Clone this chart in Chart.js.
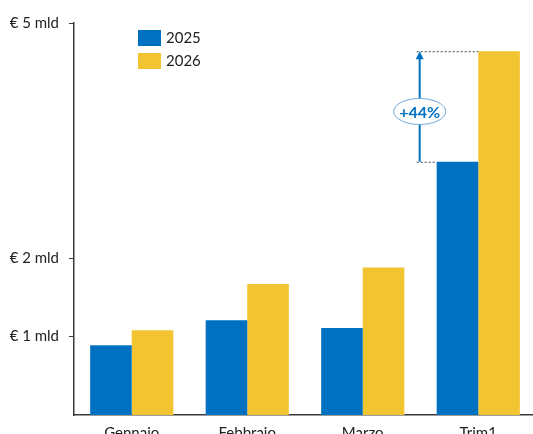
<!DOCTYPE html>
<html>
<head>
<meta charset="utf-8">
<script src="https://cdn.jsdelivr.net/npm/chart.js@4"></script>
<style>
  html, body { margin: 0; padding: 0; background: #fff; overflow: hidden; }
  #wrap { width: 536px; height: 434px; }
</style>
</head>
<body>
<div id="wrap"><canvas id="myChart"></canvas></div>
<script>
const categories = ['Gennaio', 'Febbraio', 'Marzo', 'Trim1'];
const series2025 = [0.89, 1.21, 1.11, 3.23];
const series2026 = [1.08, 1.67, 1.88, 4.64];
const seriesNames = ['2025', '2026'];
const tickValues = [1, 2, 5];

const BLUE = '#0070c0';
const YELLOW = '#f2c431';
const AXIS = '#3a3a3a';
const FONT = 'Lato, sans-serif';

// legend drawn inside plot, stacked vertically
const legendInside = {
    id: 'legendInside',
    afterDraw(chart) {
        const c = chart.ctx;
        const x0 = chart.chartArea.left + 64;
        const y0 = 30;
        c.save();
        chart.data.datasets.forEach((ds, i) => {
            const y = y0 + i * 23;
            c.fillStyle = ds.backgroundColor;
            c.fillRect(x0, y, 23, 16);
            c.fillStyle = '#222';
            c.font = '15px ' + FONT;
            c.textBaseline = 'middle';
            c.textAlign = 'left';
            c.fillText(ds.label, x0 + 28, y + 8.5);
        });
        c.restore();
    }
};

// growth arrow on the last group
const growthArrow = {
    id: 'growthArrow',
    afterDatasetsDraw(chart) {
        const c = chart.ctx;
        const i = categories.length - 1;
        const b25 = chart.getDatasetMeta(0).data[i];
        const b26 = chart.getDatasetMeta(1).data[i];
        const yTop = b26.y, yBot = b25.y;
        const left25 = b25.x - b25.width / 2;
        const left26 = b26.x - b26.width / 2;
        const ax = left25 - 17;

        c.save();
        c.strokeStyle = '#444';
        c.lineWidth = 1;
        c.setLineDash([2, 2]);
        c.beginPath();
        c.moveTo(ax - 3, yTop + 0.5); c.lineTo(left26, yTop + 0.5);
        c.moveTo(ax - 3, yBot + 0.5); c.lineTo(left25, yBot + 0.5);
        c.stroke();
        c.setLineDash([]);

        c.strokeStyle = BLUE;
        c.lineWidth = 2;
        c.beginPath();
        c.moveTo(ax, yBot);
        c.lineTo(ax, yTop + 6);
        c.stroke();
        c.fillStyle = BLUE;
        c.beginPath();
        c.moveTo(ax, yTop);
        c.lineTo(ax - 4, yTop + 8);
        c.lineTo(ax + 4, yTop + 8);
        c.closePath();
        c.fill();

        const cy = (yTop + yBot) / 2 + 5;
        c.beginPath();
        c.ellipse(ax, cy, 26, 13, 0, 0, Math.PI * 2);
        c.fillStyle = '#fff';
        c.fill();
        c.strokeStyle = '#6fa8dc';
        c.lineWidth = 1;
        c.stroke();

        const pct = Math.round((series2026[i] / series2025[i] - 1) * 100);
        c.fillStyle = BLUE;
        c.font = 'bold 16px ' + FONT;
        c.textAlign = 'center';
        c.textBaseline = 'middle';
        c.fillText('+' + pct + '%', ax, cy + 1);
        c.restore();
    }
};

const data_bar = {
    labels: categories,
    datasets: [
        { label: seriesNames[0], data: series2025, backgroundColor: BLUE },
        { label: seriesNames[1], data: series2026, backgroundColor: YELLOW }
    ]
};

function make_bar(ctx, data_bar) {
    return new Chart(ctx, {
        type: 'bar',
        data: data_bar,
        options: {
            responsive: true,
            maintainAspectRatio: false,
            animation: false,
            layout: { padding: { top: 23, right: 0, left: 0, bottom: 0 } },
            datasets: { bar: { categoryPercentage: 0.72, barPercentage: 1, borderWidth: 0 } },
            plugins: { legend: { display: false }, tooltip: { enabled: false } },
            scales: {
                x: {
                    grid: { display: false },
                    border: { color: AXIS, width: 1.5 },
                    ticks: { color: '#222', font: { family: FONT, size: 15 }, padding: 1 },
                    afterFit(scale) { scale.height = 19; }
                },
                y: {
                    min: 0,
                    max: 5,
                    afterBuildTicks(scale) { scale.ticks = tickValues.map(v => ({ value: v })); },
                    afterFit(scale) { scale.width = 74; },
                    grid: { drawOnChartArea: false, tickLength: 5, color: AXIS },
                    border: { color: AXIS, width: 1.5 },
                    ticks: {
                        color: '#222',
                        padding: 10,
                        font: { family: FONT, size: 15 },
                        callback: v => '€ ' + v + ' mld'
                    }
                }
            }
        },
        plugins: [legendInside, growthArrow]
    });
}

make_bar(document.getElementById('myChart'), data_bar);
</script>
</body>
</html>
